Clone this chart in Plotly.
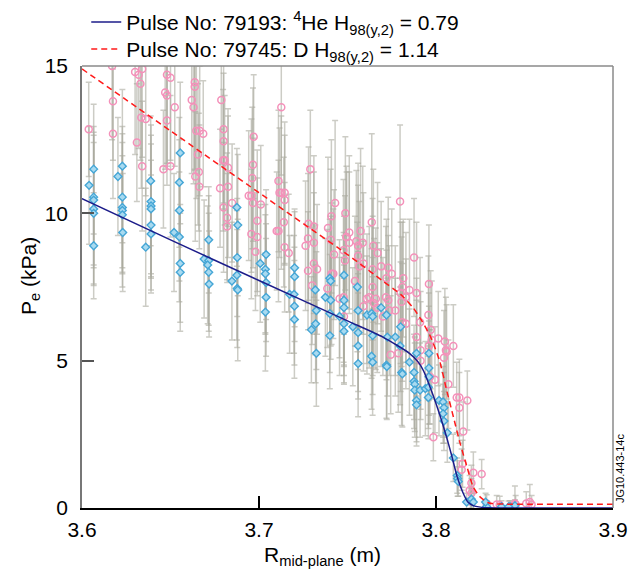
import plotly.graph_objects as go

# ---------------- data ----------------
# D pulse 79745 (pink open circles)
pink_x = [3.6038, 3.6170, 3.6175, 3.6175, 3.6300, 3.6320, 3.6340, 3.6330, 3.6335, 3.6360,
          3.6310, 3.6340, 3.6480, 3.6500, 3.6470, 3.6480, 3.6480, 3.6524, 3.6460, 3.6500,
          3.6637, 3.6637, 3.6620, 3.6630, 3.6646, 3.6665, 3.6685, 3.6655, 3.6640, 3.6660,
          3.6663, 3.6787, 3.6800, 3.6800, 3.6797, 3.6806, 3.6825, 3.6780, 3.6825, 3.6800,
          3.6848, 3.6820, 3.6820, 3.6970, 3.6966, 3.6962, 3.6942, 3.6957, 3.6966, 3.7010,
          3.6990, 3.6990, 3.6957, 3.6980, 3.7126, 3.7110, 3.7116, 3.7126, 3.7145, 3.7145,
          3.7140, 3.7100, 3.7110, 3.7145, 3.7168, 3.7290, 3.7280, 3.7310, 3.7277, 3.7310,
          3.7263, 3.7310, 3.7328, 3.7277, 3.7300, 3.7386, 3.7390, 3.7409, 3.7430, 3.7405,
          3.7424, 3.7410, 3.7420, 3.7455, 3.7478, 3.7488, 3.7494, 3.7480, 3.7477, 3.7486,
          3.7495, 3.7510, 3.7510, 3.7542, 3.7560, 3.7574, 3.7550, 3.7586, 3.7560, 3.7567,
          3.7590, 3.7590, 3.7610, 3.7623, 3.7637, 3.7646, 3.7642, 3.7642, 3.7650, 3.7660,
          3.7668, 3.7670, 3.7690, 3.7700, 3.7717, 3.7730, 3.7730, 3.7750, 3.7720, 3.7736,
          3.7770, 3.7797, 3.7800, 3.7810, 3.7806, 3.7815, 3.7810, 3.7830, 3.7744, 3.7787,
          3.7830, 3.7850, 3.7876, 3.7890, 3.7910, 3.7890, 3.7913, 3.7913, 3.7960, 3.7957,
          3.7970, 3.7960, 3.7976, 3.7994, 3.7966, 3.8013, 3.8050, 3.8056, 3.8045, 3.8060,
          3.8098, 3.8070, 3.7985, 3.8117, 3.8132, 3.8132, 3.8177, 3.8154, 3.8150, 3.8145,
          3.8211, 3.8200, 3.8190, 3.8200, 3.8195, 3.8258, 3.8286, 3.8343, 3.8446, 3.8530,
          3.8510, 3.8540, 3.8360, 3.8450]
pink_y = [12.85, 15.0, 13.8, 12.7, 14.8, 14.7, 14.9, 14.4, 13.25, 13.2,
          12.4, 11.6, 14.7, 14.6, 14.1, 14.0, 13.15, 13.6, 11.5, 11.6,
          14.45, 14.3, 13.85, 13.6, 12.8, 12.8, 12.7, 12.0, 11.25, 11.4,
          10.9, 13.85, 12.85, 12.45, 11.8, 11.8, 11.55, 10.85, 10.9, 10.2,
          10.35, 9.85, 9.55, 12.6, 11.65, 11.2, 10.6, 10.6, 10.35, 10.3,
          9.75, 9.2, 9.3, 8.7, 13.6, 11.1, 10.7, 10.7, 10.7, 10.45,
          9.7, 9.4, 9.4, 8.85, 8.65, 11.5, 9.65, 9.55, 9.15, 9.0,
          8.9, 8.3, 8.1, 8.05, 7.55, 7.45, 9.5, 9.9, 10.35, 9.1,
          8.6, 7.95, 7.95, 7.1, 7.15, 10.0, 9.2, 6.5, 8.75, 8.4,
          9.2, 9.35, 9.0, 7.7, 8.9, 9.4, 9.05, 9.0, 8.55, 8.2,
          8.3, 6.85, 7.1, 7.15, 9.7, 8.9, 8.1, 7.5, 6.95, 7.1,
          6.8, 8.65, 8.2, 6.5, 7.15, 7.05, 8.15, 7.95, 7.8, 6.7,
          6.7, 10.4, 7.3, 7.5, 7.0, 7.8, 6.3, 6.25, 5.2, 5.25,
          7.15, 7.4, 8.5, 7.3, 6.3, 5.8, 5.35, 5.0, 7.6, 6.55,
          6.05, 5.5, 5.7, 4.35, 4.45, 5.75, 5.65, 5.35, 5.1, 5.3,
          5.5, 4.2, 2.4, 3.75, 3.75, 3.4, 3.65, 2.6, 1.5, 1.3,
          1.2, 0.85, 0.6, 0.5, 0.25, 1.15, 0.15, 0.12, 0.15, 0.2,
          0.15, 0.12, 0.1, 0.12]
pink_err = [1.6, 2.5, 2.0, 2.2, 2.8, 2.5, 3.0, 2.6, 2.4, 2.6,
            2.0, 2.2, 3.0, 2.8, 2.6, 2.4, 2.2, 2.0, 2.0, 2.4,
            3.0, 2.8, 2.5, 2.6, 2.3, 2.2, 1.8, 2.4, 2.2, 2.0,
            2.1, 2.2, 2.5, 2.3, 2.4, 2.2, 2.0, 2.0, 2.4, 2.2,
            2.0, 2.2, 1.8, 2.1, 2.6, 2.4, 2.2, 2.6, 2.2, 2.0,
            2.4, 2.0, 2.2, 2.0, 2.3, 2.4, 2.2, 2.6, 2.4, 2.2,
            2.2, 2.0, 2.4, 2.2, 2.0, 2.0, 2.6, 2.4, 2.2, 2.4,
            2.2, 2.4, 2.2, 2.0, 2.0, 2.0, 2.4, 2.6, 2.8, 2.4,
            2.2, 2.4, 2.2, 2.0, 2.2, 2.6, 2.4, 2.0, 2.4, 2.2,
            2.2, 2.6, 2.4, 2.2, 2.8, 2.8, 2.4, 2.6, 2.4, 2.2,
            2.4, 2.2, 2.2, 2.4, 3.0, 2.6, 2.4, 2.4, 2.2, 2.4,
            2.2, 2.4, 2.2, 2.0, 2.4, 2.2, 2.4, 2.2, 2.0, 2.2,
            2.2, 2.6, 2.4, 2.2, 2.2, 2.0, 2.0, 2.2, 2.0, 2.0,
            2.2, 2.4, 2.0, 2.4, 2.2, 2.0, 2.0, 2.0, 2.0, 2.0,
            2.0, 1.8, 2.0, 1.8, 1.6, 1.6, 1.8, 1.8, 1.6, 1.6,
            1.4, 1.5, 0.8, 1.2, 1.3, 1.2, 1.0, 1.0, 0.8, 0.7,
            0.7, 0.6, 0.5, 0.5, 0.4, 0.5, 0.3, 0.3, 0.6, 0.6,
            0.4, 0.3, 0.3, 0.3]

# 4He pulse 79193 (blue diamonds)
blue_x = [3.6040, 3.6066, 3.6066, 3.6066, 3.6066, 3.6066, 3.6066, 3.6203, 3.6228, 3.6228,
          3.6228, 3.6228, 3.6228, 3.6230, 3.6388, 3.6390, 3.6390, 3.6390, 3.6390, 3.6390,
          3.6360, 3.6555, 3.6550, 3.6550, 3.6520, 3.6550, 3.6555, 3.6555, 3.6716, 3.6690,
          3.6716, 3.6710, 3.6716, 3.6718, 3.6875, 3.6880, 3.6877, 3.6875, 3.6847, 3.6877,
          3.6880, 3.7040, 3.7007, 3.7036, 3.7036, 3.7040, 3.7040, 3.7036, 3.7201, 3.7201,
          3.7173, 3.7198, 3.7200, 3.7200, 3.7318, 3.7324, 3.7296, 3.7320, 3.7324, 3.7400,
          3.7405, 3.7375, 3.7405, 3.7400, 3.7400, 3.7455, 3.7480, 3.7480, 3.7480, 3.7480,
          3.7480, 3.7530, 3.7556, 3.7560, 3.7560, 3.7560, 3.7560, 3.7610, 3.7636, 3.7642,
          3.7642, 3.7636, 3.7642, 3.7690, 3.7720, 3.7725, 3.7720, 3.7722, 3.7770, 3.7797,
          3.7800, 3.7806, 3.7810, 3.7850, 3.7890, 3.7876, 3.7876, 3.7880, 3.7880, 3.7890,
          3.7890, 3.7910, 3.7940, 3.7957, 3.7960, 3.7960, 3.7960, 3.7957, 3.8017, 3.8040,
          3.8045, 3.8040, 3.8045, 3.8064, 3.8098, 3.8120, 3.8122, 3.8126, 3.8173, 3.8200,
          3.8211, 3.8286, 3.8370, 3.8418, 3.8446, 3.8410, 3.8280]
blue_y = [10.95, 11.5, 10.55, 10.45, 10.15, 10.0, 8.9, 11.25, 11.6, 10.55,
          10.2, 10.1, 9.95, 9.35, 11.1, 10.4, 10.25, 10.15, 9.6, 9.3,
          8.85, 12.05, 11.05, 10.1, 9.35, 9.2, 8.3, 8.0, 9.1, 8.45,
          8.4, 8.25, 8.0, 7.6, 10.2, 9.6, 8.5, 7.9, 7.7, 7.45,
          7.4, 8.6, 8.3, 8.1, 7.95, 7.65, 7.15, 6.65, 8.15, 7.85,
          7.25, 7.25, 6.85, 6.4, 7.4, 6.7, 6.05, 6.25, 5.25, 7.8,
          7.7, 7.15, 7.05, 6.6, 5.85, 6.5, 7.05, 6.8, 6.25, 6.0,
          7.9, 6.15, 7.5, 6.7, 5.95, 5.5, 4.9, 6.55, 6.6, 6.5,
          5.85, 5.15, 4.95, 6.8, 6.55, 5.8, 4.85, 4.8, 5.8, 5.5,
          6.15, 4.6, 4.55, 4.95, 5.25, 4.6, 4.3, 4.2, 4.0, 3.65,
          3.5, 4.0, 4.05, 4.1, 4.45, 4.75, 5.25, 3.75, 3.65, 3.6,
          3.4, 3.2, 2.95, 2.55, 1.7, 1.1, 1.0, 0.9, 0.2, 0.3,
          0.2, 0.05, 0.05, 0.05, 0.08, 0.04, 0.2]
blue_err = [2.0, 2.2, 2.4, 2.2, 2.6, 2.4, 1.8, 2.0, 2.6, 2.4,
            2.2, 2.6, 2.0, 2.0, 2.2, 2.6, 2.4, 2.2, 2.2, 2.0,
            2.0, 2.4, 2.2, 2.4, 2.0, 2.2, 2.0, 2.0, 1.8, 2.0,
            2.2, 2.0, 2.0, 1.8, 2.0, 2.4, 2.0, 2.2, 2.0, 2.0,
            2.4, 2.2, 2.0, 2.2, 2.0, 2.0, 2.0, 2.0, 2.0, 2.2,
            2.0, 2.0, 2.0, 2.0, 2.2, 2.0, 1.8, 2.0, 1.8, 2.0,
            2.2, 2.0, 2.0, 2.0, 1.8, 2.0, 2.2, 2.0, 2.0, 1.8,
            2.0, 2.0, 2.2, 2.0, 2.0, 1.8, 1.8, 2.0, 2.2, 2.0,
            2.0, 1.8, 1.8, 2.0, 2.2, 2.0, 1.8, 1.8, 2.0, 2.0,
            2.2, 1.8, 1.8, 1.8, 1.8, 1.6, 1.6, 1.6, 1.6, 1.4,
            1.4, 1.6, 1.6, 1.4, 1.6, 1.6, 1.6, 1.4, 1.2, 1.2,
            1.2, 1.0, 1.0, 1.0, 0.8, 0.6, 0.6, 0.5, 0.3, 0.4,
            0.3, 0.2, 0.2, 0.2, 0.2, 0.2, 0.3]

# fitted profiles
fit_he_x = [3.60, 3.65, 3.70, 3.75, 3.77, 3.785, 3.79, 3.793, 3.797, 3.80, 3.803,
            3.806, 3.809, 3.812, 3.815, 3.818, 3.821, 3.825, 3.83, 3.84, 3.90]
fit_he_y = [10.5, 9.1, 7.72, 6.35, 5.8, 5.25, 4.95, 4.65, 4.05, 3.55, 3.0,
            2.4, 1.75, 1.05, 0.55, 0.2, 0.08, 0.03, 0.01, 0.0, 0.0]
fit_d_x = [3.60, 3.65, 3.70, 3.75, 3.77, 3.78, 3.787, 3.792, 3.797, 3.802, 3.806,
           3.810, 3.8136, 3.8175, 3.821, 3.825, 3.830, 3.840, 3.90]
fit_d_y = [14.9, 12.8, 10.7, 8.6, 7.7, 7.25, 6.8, 6.35, 5.8, 5.0, 4.0,
           3.05, 2.2, 1.4, 0.72, 0.37, 0.17, 0.13, 0.13]

name_he = "Pulse No: 79193: <sup>4</sup>He H<sub>98(y,2)</sub> = 0.79"
name_d = "Pulse No: 79745: D H<sub>98(y,2)</sub> = 1.14"

FONT = "Liberation Sans, Arial, Helvetica, sans-serif"
ERR_COL = "rgba(170,170,158,0.6)"

fig = go.Figure()

# error bars (drawn first, beneath all markers)
for xs, ys, es in [(pink_x, pink_y, pink_err), (blue_x, blue_y, blue_err)]:
    fig.add_trace(go.Scatter(
        x=xs, y=ys, mode="markers", showlegend=False, hoverinfo="skip",
        marker=dict(size=1, color="rgba(0,0,0,0)"),
        error_y=dict(type="data", array=es, visible=True, color=ERR_COL,
                     thickness=1.5, width=3)))

# markers
fig.add_trace(go.Scatter(
    x=pink_x, y=pink_y, mode="markers", showlegend=False,
    marker=dict(symbol="circle-open", size=7, color="#F491BA",
                line=dict(width=1.5, color="#F491BA"))))
fig.add_trace(go.Scatter(
    x=blue_x, y=blue_y, mode="markers", showlegend=False,
    marker=dict(symbol="diamond", size=6, color="#A8DAF0",
                line=dict(width=1.4, color="#45A6D6"))))

# fit lines
fig.add_trace(go.Scatter(
    x=fit_he_x, y=fit_he_y, mode="lines", name=name_he, legend="legend",
    line=dict(color="#1C1C8A", width=1.5, shape="spline", smoothing=0.6)))
fig.add_trace(go.Scatter(
    x=fit_d_x, y=fit_d_y, mode="lines", name=name_d, legend="legend2",
    line=dict(color="#FF1A1A", width=1.5, dash="6px,4px", shape="spline", smoothing=0.6)))

leg_common = dict(xanchor="left", yanchor="top", bgcolor="rgba(0,0,0,0)",
                  font=dict(size=21), itemwidth=30)

fig.update_layout(
    width=628, height=569,
    margin=dict(l=82, r=15, t=66, b=61, autoexpand=False),
    paper_bgcolor="white", plot_bgcolor="white",
    font=dict(family=FONT, size=21, color="black"),
    showlegend=True,
    legend=dict(x=0.008, y=1.145, **leg_common),
    legend2=dict(x=0.008, y=1.084, **leg_common),
    xaxis=dict(range=[3.6, 3.9], tickvals=[3.6, 3.7, 3.8, 3.9],
               ticktext=["3.6", "3.7", "3.8", "3.9"],
               ticks="inside", ticklen=12, tickwidth=1.5, tickcolor="black",
               showline=True, linecolor="black", linewidth=1.5,
               showgrid=False, zeroline=False, ticklabelstandoff=2,
               tickfont=dict(size=21)),
    yaxis=dict(range=[0, 15], tickvals=[0, 5, 10, 15],
               ticks="inside", ticklen=12, tickwidth=1.5, tickcolor="#555555",
               showline=True, linecolor="#777777", linewidth=1.5,
               showgrid=False, zeroline=False, ticklabelstandoff=8,
               tickfont=dict(size=21)),
    shapes=[
        dict(type="line", xref="paper", yref="paper", x0=0, x1=1, y0=1, y1=1,
             line=dict(color="#8A8A8A", width=1.5), layer="above"),
        dict(type="line", xref="paper", yref="paper", x0=1, x1=1, y0=0, y1=1,
             line=dict(color="#8A8A8A", width=1.5), layer="above"),
    ],
    annotations=[
        dict(text="P<sub>e</sub> (kPa)", xref="paper", yref="paper",
             x=-0.098, y=0.525, textangle=-90, showarrow=False,
             xanchor="center", yanchor="middle", font=dict(size=21)),
        dict(text="R<sub>mid-plane</sub> (m)", xref="paper", yref="paper",
             x=0.452, y=-0.109, showarrow=False,
             xanchor="center", yanchor="middle", font=dict(size=21)),
        dict(text="JG10.443-14c", xref="paper", yref="paper",
             x=1.013, y=0.09, textangle=-90, showarrow=False,
             xanchor="center", yanchor="middle", font=dict(size=11)),
    ],
)

fig.write_html("out.html")
